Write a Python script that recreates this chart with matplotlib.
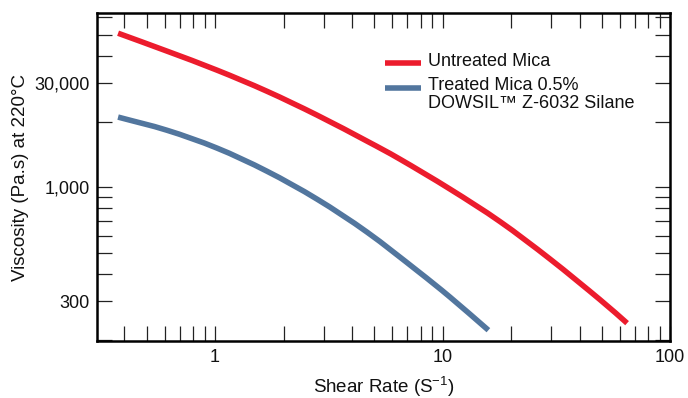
import matplotlib
matplotlib.use("Agg")
import numpy as np
import matplotlib.pyplot as plt
from matplotlib.ticker import FixedLocator, NullFormatter
from matplotlib.lines import Line2D
from matplotlib.path import Path
from matplotlib.patches import PathPatch

plt.rcParams['font.family'] = ['Liberation Sans', 'DejaVu Sans']
plt.rcParams['mathtext.default'] = 'regular'

# shear rate (1/s) and viscosity (Pa.s)
untreated_rate = [0.375, 0.615, 1.02, 1.69, 2.81, 4.66, 6.5, 10.8, 17.9, 29.7, 49.2, 64.7]
untreated_visc = [5080, 4205, 3440, 2754, 2139, 1625, 1344, 979, 695, 468, 305, 238]

treated_rate = [0.375, 0.615, 1.02, 1.69, 2.81, 4.66, 7.7, 10.8, 15.9]
treated_visc = [2096, 1824, 1511, 1184, 881, 622, 416, 313, 221]

labels = ["Untreated Mica", "Treated Mica 0.5%\nDOWSIL\u2122 Z-6032 Silane"]
colors = ["#EC1C2D", "#52769E"]

x_ticks = [1, 10, 100]
x_ticklabels = ["1", "10", "100"]
y_ticks = [300, 1000, 3000]
y_ticklabels = ["300", "1,000", "30,000"]


def smooth_path(xs, ys):
    # catmull-rom through the read points, done in log space, as bezier curves
    p = np.column_stack([np.log10(xs), np.log10(ys)])
    p = np.vstack([2 * p[0] - p[1], p, 2 * p[-1] - p[-2]])
    verts = [p[1]]
    codes = [Path.MOVETO]
    for i in range(1, len(p) - 2):
        c1 = p[i] + (p[i + 1] - p[i - 1]) / 6.0
        c2 = p[i + 1] - (p[i + 2] - p[i]) / 6.0
        verts += [c1, c2, p[i + 1]]
        codes += [Path.CURVE4] * 3
    return Path(10.0 ** np.array(verts), codes)


fig = plt.figure(figsize=(6.88, 3.98), dpi=100)
ax = fig.add_axes([0.141, 0.143, 0.833, 0.824])

ax.set_xscale('log')
ax.set_yscale('log')
ax.set_xlim(0.303, 100)
ax.set_ylim(197, 6280)

for xs, ys, c in [(untreated_rate, untreated_visc, colors[0]),
                  (treated_rate, treated_visc, colors[1])]:
    ax.add_patch(PathPatch(smooth_path(xs, ys), fill=False, edgecolor=c,
                           lw=4, capstyle='butt'))

ax.xaxis.set_major_locator(FixedLocator(x_ticks))
ax.set_xticklabels(x_ticklabels)
ax.xaxis.set_minor_locator(FixedLocator(
    [m * 10.0 ** d for d in (-1, 0, 1) for m in range(2, 10)]))
ax.xaxis.set_minor_formatter(NullFormatter())

ax.yaxis.set_major_locator(FixedLocator(y_ticks))
ax.set_yticklabels(y_ticklabels)
ax.yaxis.set_minor_locator(FixedLocator(
    [m * 10.0 ** d for d in (2, 3) for m in range(2, 10)]))
ax.yaxis.set_minor_formatter(NullFormatter())

for which in ('major', 'minor'):
    ax.tick_params(axis='both', which=which, direction='in', length=11, width=0.9,
                   color='#222222', top=True, right=True)
ax.tick_params(axis='both', which='major', labelsize=13, labelcolor='#111111')
ax.tick_params(axis='x', which='major', pad=6)
ax.tick_params(axis='y', which='major', pad=5)

for s in ax.spines.values():
    s.set_linewidth(1.8)
    s.set_color('black')

ax.set_xlabel('Shear Rate (S$^{-1}$)', fontsize=13.5, color='#111111', labelpad=6)
ax.set_ylabel('Viscosity (Pa.s) at 220\u00b0C', fontsize=13.5, color='#111111', labelpad=4)

# legend drawn by hand so the blue handle sits on the first text line
legend_y = [0.848, 0.771]
for c, lab, yy in zip(colors, labels, legend_y):
    ax.add_line(Line2D([0.503, 0.565], [yy, yy], transform=ax.transAxes,
                       color=c, lw=4, solid_capstyle='butt'))
    if '\n' in lab:
        ax.text(0.578, yy + 0.034, lab, transform=ax.transAxes, fontsize=13,
                va='top', ha='left', color='#111111', linespacing=1.05)
    else:
        ax.text(0.578, yy + 0.005, lab, transform=ax.transAxes, fontsize=13,
                va='center', ha='left', color='#111111')

fig.savefig('out.png', dpi=100)
